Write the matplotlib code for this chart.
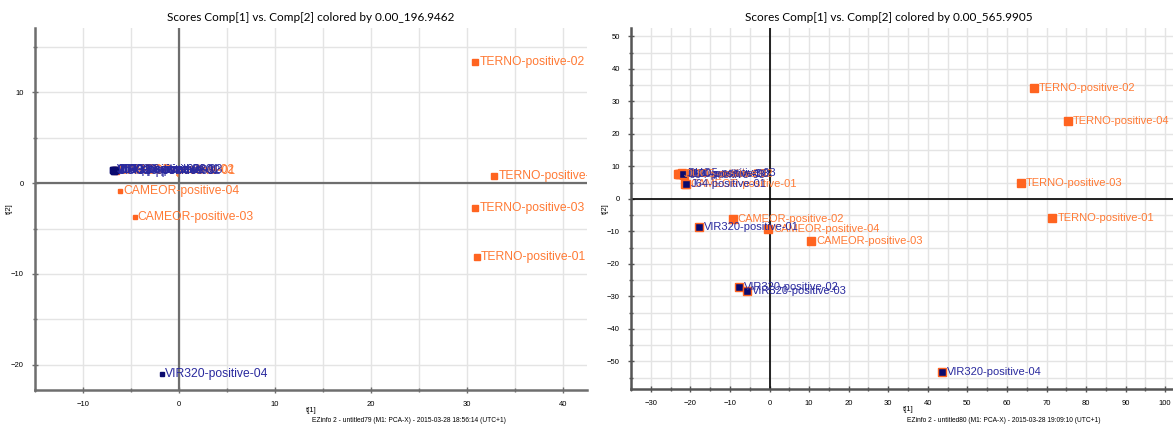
import matplotlib
matplotlib.use("Agg")
import matplotlib.pyplot as plt
from matplotlib.ticker import MultipleLocator

# --- data: left plot (0.00_196.9462) ---
left_names = ["TERNO-positive-02", "TERNO-positive-04", "TERNO-positive-03", "TERNO-positive-01",
              "CAMEOR-positive-04", "CAMEOR-positive-03", "VIR320-positive-04",
              "CAMEOR-positive-01", "CAMEOR-positive-02",
              "J100-positive-01", "DUO5-positive-03", "J64-positive-02", "VIR320-positive-01",
              "VIR320-positive-02", "VIR320-positive-03", "J100-positive-03"]
left_t1 = [30.8, 32.8, 30.8, 31.0, -6.1, -4.6, -1.8,
           -6.6, -6.7, -6.9, -6.8, -6.7, -6.9, -6.8, -6.6, -6.8]
left_t2 = [13.4, 0.8, -2.75, -8.1, -0.9, -3.7, -21.0,
           1.3, 1.4, 1.45, 1.35, 1.4, 1.5, 1.35, 1.4, 1.45]
left_group = ["o", "o", "o", "o", "o", "o", "b",
              "o", "o", "b", "b", "b", "b", "b", "b", "b"]
left_size = [5, 5, 5, 5, 2.3, 2.3, 3, 4, 4, 4.5, 4.5, 4.5, 4.5, 4.5, 4.5, 4.5]

# --- data: right plot (0.00_565.9905) ---
right_names = ["TERNO-positive-02", "TERNO-positive-04", "TERNO-positive-03", "TERNO-positive-01",
               "CAMEOR-positive-02", "CAMEOR-positive-04", "CAMEOR-positive-03",
               "VIR320-positive-01", "VIR320-positive-02", "VIR320-positive-03", "VIR320-positive-04",
               "CAMEOR-positive-01", "J64-positive-01",
               "J100-positive-01", "J100-positive-02", "DUO5-positive-03", "J64-positive-03",
               "DUO5-positive-02", "J100-positive-03"]
right_t1 = [66.9, 75.5, 63.6, 71.5, -9.3, -0.3, 10.6,
            -17.9, -7.8, -5.6, 43.7,
            -21.3, -21.0,
            -23.0, -22.5, -22.0, -21.5, -22.8, -21.8]
right_t2 = [34.2, 24.0, 4.9, -5.8, -6.2, -9.2, -12.9,
            -8.6, -27.0, -28.3, -53.2,
            4.7, 4.5,
            7.8, 7.6, 7.9, 7.5, 7.7, 7.8]
right_group = ["o", "o", "o", "o", "o", "o", "o",
               "b", "b", "b", "b",
               "o", "b",
               "o", "b", "b", "b", "o", "b"]

marker_col = {"o": "#FF6420", "b": "#0A0A6E"}
text_col = {"o": "#FF7A35", "b": "#2A2A9E"}

fig = plt.figure(figsize=(11.73, 4.25), dpi=100)


def style_axes(ax, xlim, ylim, spine_col, zero_col, zero_w, width_px):
    ax.set_xlim(*xlim)
    ax.set_ylim(*ylim)
    ax.xaxis.set_major_locator(MultipleLocator(10))
    ax.xaxis.set_minor_locator(MultipleLocator(5))
    ax.yaxis.set_major_locator(MultipleLocator(10))
    ax.yaxis.set_minor_locator(MultipleLocator(5))
    ax.grid(True, which="both", color="#e4e4e4", linewidth=1.0, zorder=0)
    ax.set_axisbelow(True)
    for s in ["top", "right"]:
        ax.spines[s].set_visible(False)
    for s in ["left", "bottom"]:
        ax.spines[s].set_color(spine_col)
        ax.spines[s].set_linewidth(1.8)
    ax.tick_params(which="both", direction="inout", length=4, width=1, color=spine_col, pad=6)
    ax.tick_params(which="minor", length=3)
    for lab in ax.get_xticklabels() + ax.get_yticklabels():
        lab.set_fontfamily("Liberation Sans")
        lab.set_fontsize(5.5)
    ax.axhline(0, color=zero_col, linewidth=zero_w, zorder=1)
    ax.axvline(0, color=zero_col, linewidth=zero_w, zorder=1)
    ax.set_xlabel("t[1]", fontsize=5.5, family="Liberation Sans")
    ax.set_ylabel("t[2]", fontsize=5.5, family="Liberation Sans")
    ax.xaxis.set_label_coords(0.5, -17 / 362)
    ax.yaxis.set_label_coords(-22 / width_px, 0.5)


# left panel
ax1 = fig.add_axes([35 / 1173, 1 - 390 / 425, 552 / 1173, 362 / 425])
style_axes(ax1, (-15, 42.5), (-22.8, 17.1), "#6e6e6e", "#6e6e6e", 1.6, 552)
for n, x, y, g, s in zip(left_names, left_t1, left_t2, left_group, left_size):
    ax1.plot(x, y, marker="s", markersize=s, color=marker_col[g], linestyle="none", zorder=3)
    t = ax1.annotate(n, (x, y), xytext=(s / 2 + 0.8, 0), textcoords="offset points",
                     ha="left", va="center", fontsize=8.7, family="Liberation Sans",
                     color=text_col[g], zorder=4)
    t.set_clip_box(ax1.bbox)
    t.set_clip_on(True)
ax1.set_title("Scores Comp[1] vs. Comp[2] colored by 0.00_196.9462",
              fontsize=8.5, family="Lato", pad=5)

# right panel (runs past the right edge of the picture, as in the original)
ax2 = fig.add_axes([631 / 1173, 1 - 389 / 425, 554 / 1173, 361 / 425])
style_axes(ax2, (-35, 105), (-58.5, 52.6), "#555555", "#000000", 1.2, 554)
for n, x, y, g in zip(right_names, right_t1, right_t2, right_group):
    ax2.plot(x, y, marker="s", markersize=6.3, markerfacecolor=marker_col[g],
             markeredgecolor="#FF6420", markeredgewidth=1.0, linestyle="none", zorder=3)
    ax2.annotate(n, (x, y), xytext=(3.5, 0), textcoords="offset points",
                 ha="left", va="center", fontsize=8.0, family="Liberation Sans",
                 color=text_col[g], zorder=4)
ax2.set_title("Scores Comp[1] vs. Comp[2] colored by 0.00_565.9905",
              fontsize=8.5, family="Lato", pad=5)
ax2.title.set_position((0.466, 1.0))

fig.text(312 / 1173, 1 - 420 / 425, "EZinfo 2 - untitled79 (M1: PCA-X) - 2015-03-28 18:56:14 (UTC+1)",
         fontsize=4.8, family="Liberation Sans", va="center")
fig.text(907 / 1173, 1 - 420 / 425, "EZinfo 2 - untitled80 (M1: PCA-X) - 2015-03-28 19:09:10 (UTC+1)",
         fontsize=4.8, family="Liberation Sans", va="center")

fig.savefig("out.png", dpi=100)
